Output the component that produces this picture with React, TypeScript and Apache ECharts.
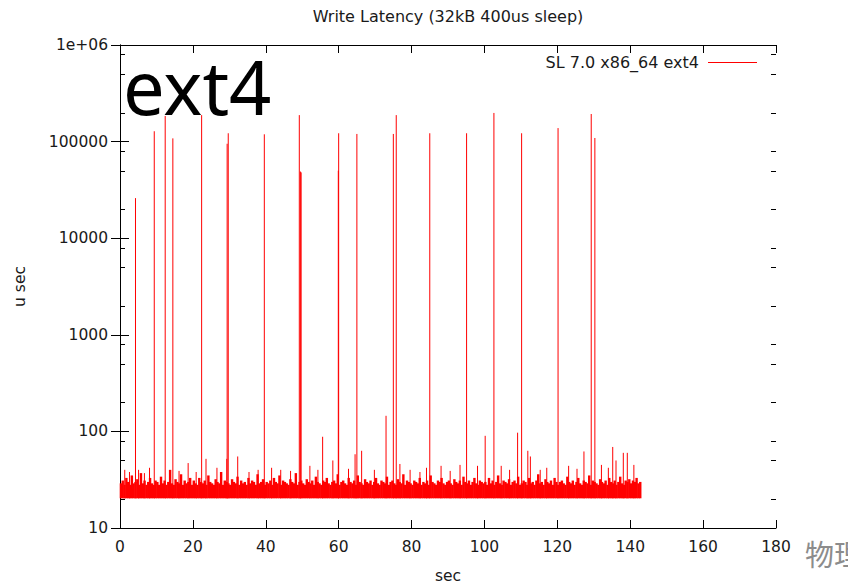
import React, { useEffect, useRef } from "react";
import * as echarts from "echarts";

const TITLE = "Write Latency (32kB 400us sleep)";
const SERIES_NAME = "SL 7.0 x86_64 ext4";
const BIG_LABEL = "ext4";
const WATERMARK = "物理";
const X_NAME = "sec";
const Y_NAME = "u sec";

const X_MIN = 0;
const X_MAX = 180;
const X_INTERVAL = 20;
const Y_MIN = 10;
const Y_MAX = 1000000;
const Y_MINOR = [20, 50, 80, 200, 500, 800, 2000, 5000, 8000, 20000, 50000, 80000, 200000, 500000, 800000];

// lowest latency seen in the steady band (usec)
const BAND_FLOOR = 20.3;
// upper envelope of the steady latency band (usec), one value every BASE_STEP seconds
const BASE_STEP = 0.5;
const baseline = [
  29, 31, 28, 33, 30, 28, 35, 29, 30, 32, 28, 37, 29, 31, 28, 30, 33, 29, 28, 31,
  30, 28, 34, 29, 31, 28, 30, 40, 29, 28, 32, 30, 29, 36, 28, 31, 29, 30, 33, 28,
  31, 29, 28, 33, 30, 29, 31, 28, 35, 30, 29, 28, 32, 30, 29, 38, 28, 31, 30, 29,
  28, 32, 30, 29, 34, 28, 31, 29, 30, 28, 33, 29, 31, 30, 28, 36, 29, 30, 32, 28,
  30, 29, 31, 28, 33, 30, 29, 35, 28, 31, 30, 29, 28, 32, 30, 29, 37, 28, 30, 31,
  29, 28, 32, 30, 29, 31, 28, 34, 30, 29, 28, 31, 30, 33, 29, 28, 30, 31, 29, 36,
  28, 30, 31, 29, 28, 33, 30, 29, 31, 28, 35, 30, 29, 28, 32, 30, 29, 31, 28, 30,
  33, 29, 28, 31, 30, 29, 34, 28, 30, 31, 29, 28, 32, 30, 29, 36, 28, 31, 30, 29,
  28, 31, 30, 29, 33, 28, 30, 29, 31, 28, 35, 30, 29, 28, 31, 30, 33, 29, 28, 30,
  31, 29, 28, 32, 30, 29, 31, 28, 34, 30, 29, 31, 28, 30, 33, 29, 28, 31, 30, 29,
  30, 28, 33, 29, 31, 28, 30, 35, 29, 28, 31, 30, 29, 32, 28, 30, 31, 29, 34, 28,
  29, 31, 30, 28, 33, 29, 30, 28, 31, 36, 29, 30, 28, 32, 30, 29, 31, 28, 33, 30,
  28, 30, 31, 29, 28, 34, 30, 29, 31, 28, 30, 33, 29, 28, 31, 30, 29, 35, 28, 31,
  30, 29, 28, 32, 30, 29, 31, 28, 33, 30, 29, 31, 28, 30, 34, 29, 28, 31, 30, 32,
  29, 31, 30, 33, 29, 30,
];

// latency spikes (seconds, usec)
const spikeTimes = [
  1.3, 2.6, 4.25, 5.1, 6.7, 8.1, 9.4, 12.4, 14.5, 16.2, 18.7, 20.9, 22.4, 23.6, 26.6, 29.3, 29.4, 29.7,
  32.3, 35.4, 37.9, 39.6, 41.6, 44.1, 46.8, 49.2, 49.5, 49.7, 52.1, 54.3, 55.6, 58.4, 59.9, 60.0,
  62.7, 64.5, 65.0, 66.3, 69.8, 73.0, 75.0, 75.8, 76.8, 79.6, 82.3, 84.1, 85.0, 88.1, 90.6, 93.3,
  95.1, 98.1, 100.2, 102.6, 104.6, 106.9, 109.1, 110.2, 111.9, 112.6, 115.3, 117.1, 120.2,
  123.1, 125.4, 127.3, 129.3, 130.3, 132.1, 134.0, 135.2, 136.1, 138.1, 139.2, 141.0,
];
const spikePeaks = [
  40, 38, 26000, 40, 37, 42, 128000, 184000, 108000, 39, 47, 38, 188000, 52, 42, 52, 95000, 122000,
  55, 38, 40, 119000, 42, 40, 39, 188000, 49000, 48000, 44, 40, 88, 50, 50000, 122000,
  41, 58, 120000, 63, 40, 145, 120000, 188000, 46, 40, 38, 42, 122000, 44, 39, 45,
  122000, 44, 90, 198000, 44, 40, 97, 122000, 63, 55, 40, 42, 138000,
  44, 41, 62, 193000, 109000, 45, 42, 69, 50, 60, 60, 45,
];

const TEXT_COLOR = "#1a1a1a";
const AXIS_COLOR = "#000000";
const LINE_COLOR = "#ff0000";
const FONT = "DejaVu Sans";

export default function App() {
  const ref = useRef<HTMLDivElement>(null);

  useEffect(() => {
    if (!ref.current) return;
    const chart = echarts.init(ref.current, undefined, { renderer: "svg" });

    const bandData = baseline.map((v, i) => [i * BASE_STEP, v]);
    const spikeData = spikeTimes.map((t, i) => [t, spikePeaks[i]]);

    const tickStyle = { color: AXIS_COLOR, width: 1 };

    chart.setOption({
      animation: false,
      textStyle: { fontFamily: FONT },
      grid: { left: 120, right: 72, top: 45, bottom: 57, containLabel: false, outerBoundsMode: "none" },
      graphic: [
        {
          type: "text",
          x: 448,
          y: 16,
          style: {
            text: TITLE,
            fill: TEXT_COLOR,
            font: `16px "${FONT}"`,
            textAlign: "center",
            textVerticalAlign: "middle",
          },
        },
        {
          type: "text",
          x: 699,
          y: 62,
          style: {
            text: SERIES_NAME,
            fill: TEXT_COLOR,
            font: `16px "${FONT}"`,
            textAlign: "right",
            textVerticalAlign: "middle",
          },
        },
        {
          type: "line",
          shape: { x1: 708, y1: 62.5, x2: 757, y2: 62.5 },
          style: { stroke: LINE_COLOR, lineWidth: 1 },
        },
        {
          type: "text",
          x: 123,
          y: 86,
          z: 10,
          style: {
            text: BIG_LABEL,
            fill: "#000000",
            font: `74px "Noto Sans"`,
            textAlign: "left",
            textVerticalAlign: "middle",
          },
        },
        {
          type: "text",
          x: 805,
          y: 553,
          style: {
            text: WATERMARK,
            fill: "#8c8c8c",
            font: `29px "Noto Sans CJK SC"`,
            textAlign: "left",
            textVerticalAlign: "middle",
          },
        },
      ],
      xAxis: [
        {
          type: "value",
          position: "bottom",
          min: X_MIN,
          max: X_MAX,
          interval: X_INTERVAL,
          axisLine: { show: true, lineStyle: tickStyle },
          axisTick: { show: true, inside: true, length: 8, lineStyle: tickStyle },
          axisLabel: { fontSize: 15.5, color: TEXT_COLOR, margin: 11, fontFamily: FONT },
          splitLine: { show: false },
          name: X_NAME,
          nameLocation: "middle",
          nameGap: 40,
          nameTextStyle: { fontSize: 15.5, color: TEXT_COLOR, fontFamily: FONT },
        },
        {
          type: "value",
          position: "top",
          min: X_MIN,
          max: X_MAX,
          interval: X_INTERVAL,
          axisLine: { show: true, lineStyle: tickStyle },
          axisTick: { show: true, inside: true, length: 8, lineStyle: tickStyle },
          axisLabel: { show: false },
          splitLine: { show: false },
        },
      ],
      yAxis: [
        {
          type: "log",
          logBase: 10,
          position: "left",
          min: Y_MIN,
          max: Y_MAX,
          axisLine: { show: true, lineStyle: tickStyle },
          axisTick: { show: true, inside: true, length: 9, lineStyle: tickStyle },
          axisLabel: {
            fontSize: 15.5,
            color: TEXT_COLOR,
            margin: 12,
            fontFamily: FONT,
            formatter: (v: number) => (v >= 1000000 ? "1e+06" : String(Math.round(v))),
          },
          splitLine: { show: false },
          name: Y_NAME,
          nameLocation: "middle",
          nameGap: 92,
          nameRotate: 90,
          nameTextStyle: { fontSize: 15.5, color: TEXT_COLOR, fontFamily: FONT },
        },
        {
          type: "log",
          logBase: 10,
          position: "right",
          min: Y_MIN,
          max: Y_MAX,
          axisLine: { show: true, lineStyle: tickStyle },
          axisTick: { show: true, inside: true, length: 9, lineStyle: tickStyle },
          axisLabel: { show: false },
          splitLine: { show: false },
        },
      ],
      series: [
        {
          name: SERIES_NAME,
          type: "custom",
          xAxisIndex: 0,
          yAxisIndex: 0,
          silent: true,
          z: 2,
          data: bandData,
          renderItem: (params: any, api: any) => {
            const t = api.value(0);
            const v = api.value(1);
            const p0 = api.coord([t, v]);
            const p1 = api.coord([t + BASE_STEP, BAND_FLOOR]);
            return {
              type: "rect",
              shape: { x: p0[0] - 0.3, y: p0[1], width: p1[0] - p0[0] + 0.6, height: p1[1] - p0[1] },
              style: { fill: LINE_COLOR },
            };
          },
        },
        {
          name: SERIES_NAME,
          type: "custom",
          xAxisIndex: 0,
          yAxisIndex: 0,
          silent: true,
          z: 3,
          data: spikeData,
          renderItem: (params: any, api: any) => {
            const t = api.value(0);
            const top = api.coord([t, api.value(1)]);
            const bottom = api.coord([t, BAND_FLOOR]);
            return {
              type: "line",
              shape: { x1: top[0], y1: top[1], x2: bottom[0], y2: bottom[1] },
              style: { stroke: LINE_COLOR, lineWidth: 1 },
            };
          },
        },
        {
          type: "custom",
          xAxisIndex: 0,
          yAxisIndex: 0,
          silent: true,
          clip: false,
          z: 5,
          data: Y_MINOR.map((v) => [X_MIN, v]),
          renderItem: (params: any, api: any) => {
            const cs = params.coordSys;
            const y = Math.round(api.coord([X_MIN, api.value(1)])[1]) + 0.5;
            const style = { stroke: AXIS_COLOR, lineWidth: 1 };
            return {
              type: "group",
              children: [
                { type: "line", shape: { x1: cs.x, y1: y, x2: cs.x + 5, y2: y }, style },
                { type: "line", shape: { x1: cs.x + cs.width, y1: y, x2: cs.x + cs.width - 5, y2: y }, style },
              ],
            };
          },
        },
      ],
    });

    return () => chart.dispose();
  }, []);

  return (
    <div
      ref={ref}
      style={{ position: "absolute", left: 0, top: 0, width: 848, height: 585 }}
    />
  );
}
